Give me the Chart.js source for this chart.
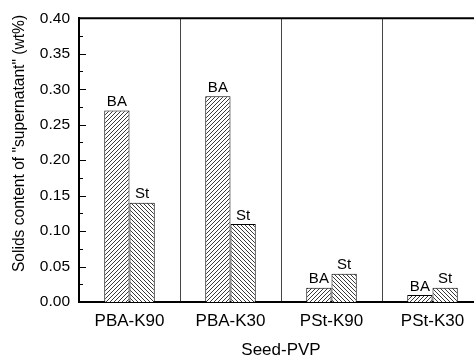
<!DOCTYPE html>
<html>
<head>
<meta charset="utf-8">
<script src="https://cdn.jsdelivr.net/npm/chart.js@4"></script>
<style>
  html, body { margin: 0; padding: 0; background: #fff; overflow: hidden; }
  #wrap { width: 490px; height: 357px; }
</style>
</head>
<body>
<div id="wrap"><canvas id="chart" width="490" height="357"></canvas></div>
<script>
const categories = ["PBA-K90", "PBA-K30", "PSt-K90", "PSt-K30"];
const seriesNames = ["BA", "St"];
const baValues = [0.27, 0.29, 0.02, 0.01];
const stValues = [0.14, 0.11, 0.04, 0.02];
const yTicks = { min: 0, max: 0.4, step: 0.05, minor: 0.025 };

const FONT = "'Liberation Sans', Arial, sans-serif";

// diagonal hatch fill, dir 1 = "/", -1 = "\"
function hatch(dir) {
    const s = 4;
    const c = document.createElement("canvas");
    c.width = s; c.height = s;
    const g = c.getContext("2d");
    g.fillStyle = "#fff";
    g.fillRect(0, 0, s, s);
    g.strokeStyle = "#222";
    g.lineWidth = 0.9;
    g.beginPath();
    if (dir > 0) {
        g.moveTo(0, s); g.lineTo(s, 0);
        g.moveTo(-1, 1); g.lineTo(1, -1);
        g.moveTo(s - 1, s + 1); g.lineTo(s + 1, s - 1);
    } else {
        g.moveTo(0, 0); g.lineTo(s, s);
        g.moveTo(-1, s - 1); g.lineTo(1, s + 1);
        g.moveTo(s - 1, -1); g.lineTo(s + 1, 1);
    }
    g.stroke();
    return g.createPattern(c, "repeat");
}

const extras = {
    id: "extras",
    afterDraw(chart) {
        const ctx = chart.ctx;
        const a = chart.chartArea;
        const y = chart.scales.y;
        ctx.save();
        // top frame line
        ctx.strokeStyle = "#000";
        ctx.lineWidth = 2;
        ctx.beginPath();
        ctx.moveTo(a.left, a.top);
        ctx.lineTo(a.right, a.top);
        ctx.stroke();
        // inside ticks on the y axis
        ctx.lineWidth = 1;
        for (let v = yTicks.min; v <= yTicks.max + 1e-9; v += yTicks.minor) {
            const py = Math.round(y.getPixelForValue(v)) + 0.5;
            const major = Math.abs(v / yTicks.step - Math.round(v / yTicks.step)) < 1e-6;
            ctx.beginPath();
            ctx.moveTo(a.left, py);
            ctx.lineTo(a.left + (major ? 7 : 4), py);
            ctx.stroke();
        }
        // bar labels
        ctx.fillStyle = "#000";
        ctx.font = "15px " + FONT;
        ctx.textAlign = "center";
        ctx.textBaseline = "bottom";
        chart.data.datasets.forEach((ds, i) => {
            chart.getDatasetMeta(i).data.forEach((bar) => {
                ctx.fillText(ds.label, bar.x, bar.y - 1);
            });
        });
        // axis titles
        ctx.font = "15.6px " + FONT;
        ctx.textBaseline = "middle";
        ctx.save();
        ctx.translate(20, 143.5);
        ctx.rotate(-Math.PI / 2);
        ctx.fillText('Solids content of "supernatant" (wt%)', 0, 0);
        ctx.restore();
        ctx.font = "17px " + FONT;
        ctx.fillText("Seed-PVP", (a.left + a.right) / 2, 350);
        ctx.restore();
    },
};

new Chart(document.getElementById("chart"), {
    type: "bar",
    data: {
        labels: categories,
        datasets: [
            {
                label: seriesNames[0],
                data: baValues,
                backgroundColor: hatch(1),
                borderColor: "#000",
                borderWidth: 1,
            },
            {
                label: seriesNames[1],
                data: stValues,
                backgroundColor: hatch(-1),
                borderColor: "#000",
                borderWidth: 1,
            },
        ],
    },
    options: {
        responsive: false,
        animation: false,
        events: [],
        layout: { padding: { top: 17, right: 7, left: 0, bottom: 0 } },
        datasets: { bar: { categoryPercentage: 0.5, barPercentage: 1 } },
        plugins: { legend: { display: false }, tooltip: { enabled: false } },
        scales: {
            x: {
                afterFit(s) { s.height = 55; },
                grid: { offset: true, color: "#444", lineWidth: 1, drawTicks: false },
                border: { color: "#000", width: 2 },
                ticks: { color: "#000", font: { family: FONT, size: 17 }, padding: 9 },
            },
            y: {
                min: yTicks.min,
                max: yTicks.max,
                afterFit(s) { s.width = 79; },
                grid: { display: false, drawTicks: false },
                border: { color: "#000", width: 2 },
                ticks: {
                    stepSize: yTicks.step,
                    color: "#000",
                    font: { family: FONT, size: 15.5 },
                    padding: 9,
                    callback: (v) => Number(v).toFixed(2),
                },
            },
        },
    },
    plugins: [extras],
});
</script>
</body>
</html>
